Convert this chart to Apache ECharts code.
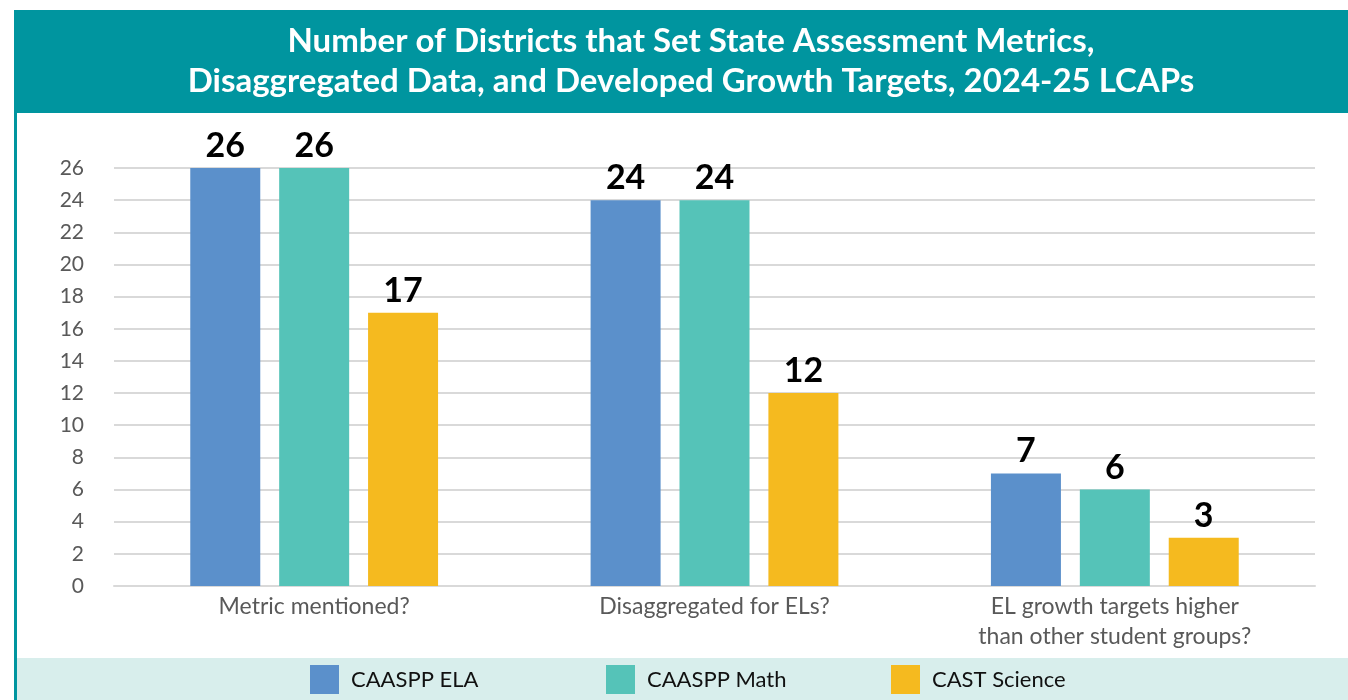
<!DOCTYPE html>
<html>
<head>
<meta charset="utf-8">
<script src="https://cdn.jsdelivr.net/npm/echarts@6/dist/echarts.min.js"></script>
<style>
  html, body { margin: 0; padding: 0; background: #fff; }
  #chart { width: 1348px; height: 700px; }
</style>
</head>
<body>
<div id="chart"></div>
<script>
'use strict';
// chart data
var categories = ['Metric mentioned?', 'Disaggregated for ELs?', 'EL growth targets higher\nthan other student groups?'];
var elaValues = [26, 24, 7];
var mathValues = [26, 24, 6];
var scienceValues = [17, 12, 3];
var seriesNames = ['CAASPP ELA', 'CAASPP Math', 'CAST Science'];
var yTicks = { min: 0, max: 26, interval: 2 };

var titleText = 'Number of Districts that Set State Assessment Metrics,\nDisaggregated Data, and Developed Growth Targets, 2024-25 LCAPs';
var colors = ['#5B90CB', '#55C3B8', '#F5BA1F'];
var fontFamily = 'Lato, "Open Sans", sans-serif';

function init() {
    const chartDom = document.getElementById('chart');
    const chart = echarts.init(chartDom);

    function barSeries(name, data, color) {
        return {
            name: name,
            type: 'bar',
            data: data,
            barWidth: 70,
            barGap: '27%',
            itemStyle: { color: color },
            label: {
                show: true,
                position: 'top',
                distance: 5,
                color: '#000',
                fontSize: 34,
                fontWeight: 'bold',
                fontFamily: fontFamily
            }
        };
    }

    function legendAt(left, name) {
        return {
            left: left,
            top: 660,
            data: [name],
            itemWidth: 29,
            itemHeight: 29,
            icon: 'rect',
            textStyle: {
                color: '#111',
                fontSize: 22,
                fontFamily: fontFamily,
                padding: [0, 0, 0, 7]
            }
        };
    }

    const option = {
        animation: false,
        color: colors,
        graphic: [
            // header band
            { type: 'rect', shape: { x: 14, y: 10, width: 1334, height: 103 }, style: { fill: '#00959F' }, z: -1 },
            // left border
            { type: 'rect', shape: { x: 14, y: 113, width: 3, height: 587 }, style: { fill: '#00959F' }, z: -1 },
            // legend band
            { type: 'rect', shape: { x: 17, y: 658, width: 1331, height: 42 }, style: { fill: '#D8EEEC' }, z: -1 }
        ],
        title: {
            text: titleText,
            left: 686,
            top: 16,
            textAlign: 'center',
            textStyle: {
                color: '#fff',
                fontSize: 33,
                fontWeight: 'bold',
                lineHeight: 40,
                fontFamily: fontFamily
            }
        },
        legend: [
            legendAt(305, seriesNames[0]),
            legendAt(601, seriesNames[1]),
            legendAt(886, seriesNames[2])
        ],
        grid: {
            left: 114,
            right: 33,
            top: 168,
            bottom: 114
        },
        xAxis: {
            type: 'category',
            data: categories,
            axisTick: { show: false },
            axisLine: { lineStyle: { color: '#D9D9D9', width: 2 } },
            axisLabel: {
                color: '#595959',
                fontSize: 23,
                lineHeight: 30,
                margin: 6,
                interval: 0,
                fontFamily: fontFamily
            }
        },
        yAxis: {
            type: 'value',
            min: yTicks.min,
            max: yTicks.max,
            interval: yTicks.interval,
            axisLine: { show: false },
            axisTick: { show: false },
            splitLine: { lineStyle: { color: '#D9D9D9', width: 2 } },
            axisLabel: {
                color: '#595959',
                fontSize: 21,
                margin: 30,
                fontFamily: fontFamily
            }
        },
        series: [
            barSeries(seriesNames[0], elaValues, colors[0]),
            barSeries(seriesNames[1], mathValues, colors[1]),
            barSeries(seriesNames[2], scienceValues, colors[2])
        ]
    };

    chart.setOption(option);
    window.addEventListener('resize', () => chart.resize());
}

(function () {
    init();
})();
</script>
</body>
</html>
